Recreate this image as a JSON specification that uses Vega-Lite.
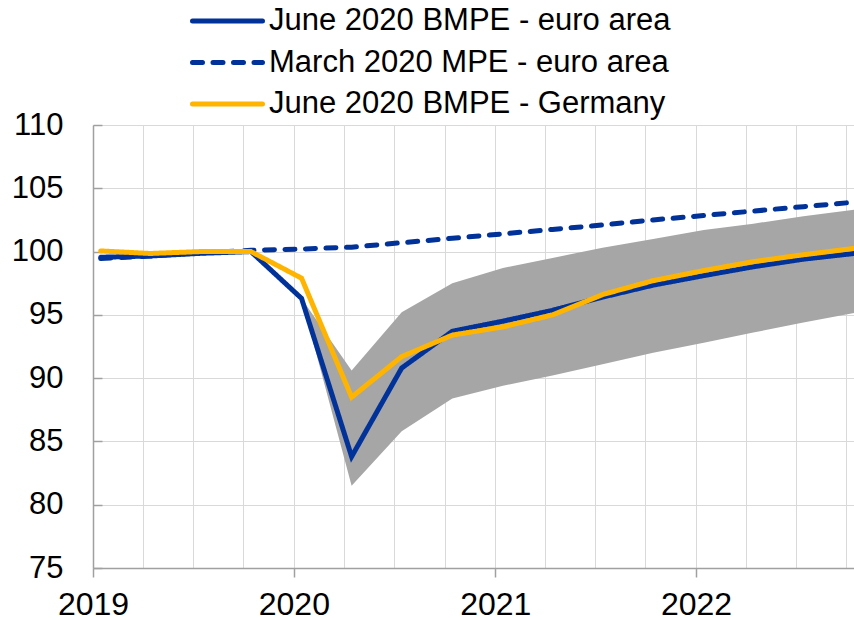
{
  "$schema": "https://vega.github.io/schema/vega-lite/v6.json",
  "width": 761,
  "height": 443,
  "autosize": "none",
  "padding": {"left": 93, "top": 125, "right": 0, "bottom": 52},
  "background": "white",
  "config": {
    "view": {"stroke": null},
    "font": "Liberation Sans",
    "axis": {"labelFont": "Liberation Sans", "labelColor": "#000000"}
  },
  "datasets": {
    "band": [
      {"date": "2020-01-15", "lower": 96.3, "upper": 96.3},
      {"date": "2020-04-15", "lower": 81.5, "upper": 90.6},
      {"date": "2020-07-15", "lower": 85.8, "upper": 95.2},
      {"date": "2020-10-15", "lower": 88.4, "upper": 97.5},
      {"date": "2021-01-15", "lower": 89.4, "upper": 98.7},
      {"date": "2021-04-15", "lower": 90.2, "upper": 99.5},
      {"date": "2021-07-15", "lower": 91.1, "upper": 100.3},
      {"date": "2021-10-15", "lower": 92.0, "upper": 101.0},
      {"date": "2022-01-15", "lower": 92.8, "upper": 101.7},
      {"date": "2022-04-15", "lower": 93.6, "upper": 102.2},
      {"date": "2022-07-15", "lower": 94.4, "upper": 102.8},
      {"date": "2022-10-15", "lower": 95.15, "upper": 103.3}
    ],
    "lines": [
      {"series": "March 2020 MPE - euro area", "date": "2019-01-15", "value": 99.45},
      {"series": "March 2020 MPE - euro area", "date": "2019-04-15", "value": 99.65},
      {"series": "March 2020 MPE - euro area", "date": "2019-07-15", "value": 99.9},
      {"series": "March 2020 MPE - euro area", "date": "2019-10-15", "value": 100.1},
      {"series": "March 2020 MPE - euro area", "date": "2020-01-15", "value": 100.2},
      {"series": "March 2020 MPE - euro area", "date": "2020-04-15", "value": 100.35},
      {"series": "March 2020 MPE - euro area", "date": "2020-07-15", "value": 100.7},
      {"series": "March 2020 MPE - euro area", "date": "2020-10-15", "value": 101.05},
      {"series": "March 2020 MPE - euro area", "date": "2021-01-15", "value": 101.4},
      {"series": "March 2020 MPE - euro area", "date": "2021-04-15", "value": 101.75},
      {"series": "March 2020 MPE - euro area", "date": "2021-07-15", "value": 102.1},
      {"series": "March 2020 MPE - euro area", "date": "2021-10-15", "value": 102.5},
      {"series": "March 2020 MPE - euro area", "date": "2022-01-15", "value": 102.85},
      {"series": "March 2020 MPE - euro area", "date": "2022-04-15", "value": 103.2},
      {"series": "March 2020 MPE - euro area", "date": "2022-07-15", "value": 103.55},
      {"series": "March 2020 MPE - euro area", "date": "2022-10-15", "value": 103.9},
      {"series": "June 2020 BMPE - euro area", "date": "2019-01-15", "value": 99.55},
      {"series": "June 2020 BMPE - euro area", "date": "2019-04-15", "value": 99.65},
      {"series": "June 2020 BMPE - euro area", "date": "2019-07-15", "value": 99.86},
      {"series": "June 2020 BMPE - euro area", "date": "2019-10-15", "value": 100.0},
      {"series": "June 2020 BMPE - euro area", "date": "2020-01-15", "value": 96.3},
      {"series": "June 2020 BMPE - euro area", "date": "2020-04-15", "value": 83.8},
      {"series": "June 2020 BMPE - euro area", "date": "2020-07-15", "value": 90.8},
      {"series": "June 2020 BMPE - euro area", "date": "2020-10-15", "value": 93.7},
      {"series": "June 2020 BMPE - euro area", "date": "2021-01-15", "value": 94.5},
      {"series": "June 2020 BMPE - euro area", "date": "2021-04-15", "value": 95.35},
      {"series": "June 2020 BMPE - euro area", "date": "2021-07-15", "value": 96.4},
      {"series": "June 2020 BMPE - euro area", "date": "2021-10-15", "value": 97.35},
      {"series": "June 2020 BMPE - euro area", "date": "2022-01-15", "value": 98.1},
      {"series": "June 2020 BMPE - euro area", "date": "2022-04-15", "value": 98.8},
      {"series": "June 2020 BMPE - euro area", "date": "2022-07-15", "value": 99.4},
      {"series": "June 2020 BMPE - euro area", "date": "2022-10-15", "value": 99.85},
      {"series": "June 2020 BMPE - Germany", "date": "2019-01-15", "value": 100.05},
      {"series": "June 2020 BMPE - Germany", "date": "2019-04-15", "value": 99.85},
      {"series": "June 2020 BMPE - Germany", "date": "2019-07-15", "value": 100.0},
      {"series": "June 2020 BMPE - Germany", "date": "2019-10-15", "value": 100.0},
      {"series": "June 2020 BMPE - Germany", "date": "2020-01-15", "value": 97.9},
      {"series": "June 2020 BMPE - Germany", "date": "2020-04-15", "value": 88.5},
      {"series": "June 2020 BMPE - Germany", "date": "2020-07-15", "value": 91.7},
      {"series": "June 2020 BMPE - Germany", "date": "2020-10-15", "value": 93.4},
      {"series": "June 2020 BMPE - Germany", "date": "2021-01-15", "value": 94.05},
      {"series": "June 2020 BMPE - Germany", "date": "2021-04-15", "value": 95.0},
      {"series": "June 2020 BMPE - Germany", "date": "2021-07-15", "value": 96.6},
      {"series": "June 2020 BMPE - Germany", "date": "2021-10-15", "value": 97.7},
      {"series": "June 2020 BMPE - Germany", "date": "2022-01-15", "value": 98.5},
      {"series": "June 2020 BMPE - Germany", "date": "2022-04-15", "value": 99.2},
      {"series": "June 2020 BMPE - Germany", "date": "2022-07-15", "value": 99.75},
      {"series": "June 2020 BMPE - Germany", "date": "2022-10-15", "value": 100.25}
    ]
  },
  "encoding": {
    "x": {
      "field": "date",
      "type": "temporal",
      "title": null,
      "scale": {
        "type": "utc",
        "domain": [
          {"year": 2019, "month": 1, "date": 1, "utc": true},
          {"year": 2022, "month": 10, "date": 15, "utc": true}
        ]
      },
      "axis": {
        "tickCount": {"interval": "month", "step": 3},
        "labelExpr": "utcmonth(datum.value) == 0 ? utcFormat(datum.value, '%Y') : ''",
        "labelFontSize": 32,
        "labelPadding": 12,
        "labelDx": 7,
        "labelFlush": false,
        "labelOverlap": false,
        "tickSize": 9,
        "tickColor": "#a0a0a0",
        "tickWidth": 1.5,
        "tickOpacity": {"condition": {"test": "utcmonth(datum.value) == 0", "value": 1}, "value": 0},
        "domainColor": "#a0a0a0",
        "domainWidth": 1.5,
        "grid": true,
        "gridColor": "#d9d9d9",
        "gridWidth": 1
      }
    }
  },
  "layer": [
    {
      "data": {"name": "band"},
      "mark": {"type": "area", "color": "#a6a6a6", "opacity": 1},
      "encoding": {
        "y": {
          "field": "lower",
          "type": "quantitative",
          "title": null,
          "scale": {"domain": [75, 110], "nice": false, "zero": false},
          "axis": {
            "values": [75, 80, 85, 90, 95, 100, 105, 110],
            "labelFontSize": 31,
            "labelPadding": 39,
            "ticks": true,
            "tickSize": -9,
            "tickColor": "#a0a0a0",
            "tickWidth": 1.5,
            "domainColor": "#a0a0a0",
            "domainWidth": 1.5,
            "grid": true,
            "gridColor": "#d9d9d9",
            "gridWidth": 1
          }
        },
        "y2": {"field": "upper"}
      }
    },
    {
      "data": {"name": "lines"},
      "mark": {"type": "line", "strokeWidth": 5, "strokeCap": "round", "strokeJoin": "miter"},
      "encoding": {
        "y": {"field": "value", "type": "quantitative"},
        "color": {
          "field": "series",
          "type": "nominal",
          "scale": {
            "domain": ["June 2020 BMPE - euro area", "March 2020 MPE - euro area", "June 2020 BMPE - Germany"],
            "range": ["#003299", "#003299", "#ffb400"]
          },
          "legend": {
            "title": null,
            "orient": "none",
            "legendX": 118,
            "legendY": -120.5,
            "symbolType": "M-2.5,0H2.5",
            "symbolSize": 784,
            "symbolStrokeWidth": 5,
            "labelFontSize": 31,
            "labelFont": "Liberation Sans",
            "labelColor": "#000000",
            "labelOffset": 25,
            "rowPadding": 9.5,
            "padding": 0,
            "labelLimit": 600,
            "encode": {"symbols": {"update": {"strokeCap": {"value": "round"}}}}
          }
        },
        "strokeDash": {
          "field": "series",
          "type": "nominal",
          "scale": {
            "domain": ["June 2020 BMPE - euro area", "March 2020 MPE - euro area", "June 2020 BMPE - Germany"],
            "range": [[1, 0], [10, 10.5], [1, 0]]
          },
          "legend": null
        },
        "order": {"field": "date", "type": "temporal"}
      }
    }
  ]
}
